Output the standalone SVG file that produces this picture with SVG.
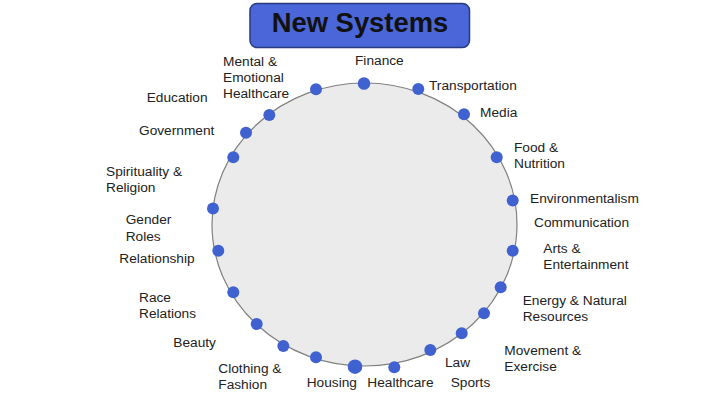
<svg xmlns="http://www.w3.org/2000/svg" width="720" height="405" viewBox="0 0 720 405">
<style>
.lbl{font-family:"Liberation Sans",Arial,sans-serif;font-size:13.7px;fill:#222}
.dot{fill:#4062d0}
</style>
<rect width="720" height="405" fill="#fff"/>
<g id="title">
<rect x="250" y="3.5" width="219.5" height="44" rx="7" fill="#4a66d8" stroke="#2a3a7c" stroke-width="1.5"/>
<text x="360" y="32" text-anchor="middle" font-family="Liberation Sans,Arial,sans-serif" font-weight="bold" font-size="27.4" fill="#111">New Systems</text>
</g>
<g id="ring">
<ellipse cx="364.5" cy="224.5" rx="152.5" ry="141.5" fill="#ebebeb" stroke="#808080" stroke-width="1.2"/>
</g>
<g id="connectors"></g>
<g id="finance"><circle class="dot" cx="364" cy="83.5" r="6.3"/><text class="lbl" x="355" y="65">Finance</text></g>
<g id="transportation"><circle class="dot" cx="418.3" cy="89" r="6"/><text class="lbl" x="429" y="89.5">Transportation</text></g>
<g id="media"><circle class="dot" cx="464" cy="114.3" r="6"/><text class="lbl" x="480" y="117">Media</text></g>
<g id="food"><circle class="dot" cx="496.7" cy="157.3" r="6"/><text class="lbl" x="514" y="152">Food &amp;</text><text class="lbl" x="514" y="168.3">Nutrition</text></g>
<g id="environmentalism"><circle class="dot" cx="512.7" cy="200.5" r="6"/><text class="lbl" x="530" y="202.7">Environmentalism</text></g>
<g id="communication"><text class="lbl" x="534" y="226.7">Communication</text></g>
<g id="arts"><circle class="dot" cx="512.7" cy="250.7" r="6"/><text class="lbl" x="543.3" y="253.3">Arts &amp;</text><text class="lbl" x="543.3" y="269.3">Entertainment</text></g>
<g id="energy"><circle class="dot" cx="500.7" cy="287.3" r="6"/><text class="lbl" x="522.7" y="305">Energy &amp; Natural</text><text class="lbl" x="522.7" y="321">Resources</text></g>
<g id="d9"><circle class="dot" cx="484" cy="313.3" r="6"/></g>
<g id="movement"><circle class="dot" cx="461.7" cy="333.3" r="6"/><text class="lbl" x="504.3" y="355">Movement &amp;</text><text class="lbl" x="504.3" y="371">Exercise</text></g>
<g id="law"><circle class="dot" cx="430.3" cy="350" r="6"/><text class="lbl" x="445" y="366.7">Law</text></g>
<g id="sports"><text class="lbl" x="450.7" y="387.3">Sports</text></g>
<g id="healthcare"><circle class="dot" cx="394.3" cy="367.3" r="6"/><text class="lbl" x="367.3" y="387.3">Healthcare</text></g>
<g id="housing"><circle class="dot" cx="355" cy="366.7" r="7.3"/><text class="lbl" x="306.7" y="387.3">Housing</text></g>
<g id="clothing"><circle class="dot" cx="316" cy="357.3" r="6"/><text class="lbl" x="218.3" y="372.7">Clothing &amp;</text><text class="lbl" x="218.3" y="389">Fashion</text></g>
<g id="beauty"><circle class="dot" cx="283.3" cy="346" r="6"/><text class="lbl" x="173.3" y="346.7">Beauty</text></g>
<g id="d17"><circle class="dot" cx="256.7" cy="324" r="6"/></g>
<g id="race"><circle class="dot" cx="233.3" cy="292.3" r="6"/><text class="lbl" x="139" y="302.3">Race</text><text class="lbl" x="139" y="318.3">Relations</text></g>
<g id="relationship"><circle class="dot" cx="218.3" cy="250.7" r="6"/><text class="lbl" x="119.3" y="262.7">Relationship</text></g>
<g id="gender"><circle class="dot" cx="213" cy="208.5" r="6"/><text class="lbl" x="125.7" y="224.3">Gender</text><text class="lbl" x="125.7" y="240.7">Roles</text></g>
<g id="spirituality"><circle class="dot" cx="233.3" cy="157.3" r="6"/><text class="lbl" x="106" y="175.7">Spirituality &amp;</text><text class="lbl" x="106" y="191.7">Religion</text></g>
<g id="government"><circle class="dot" cx="246" cy="132.7" r="6"/><text class="lbl" x="139" y="135">Government</text></g>
<g id="education"><circle class="dot" cx="269.3" cy="115" r="6"/><text class="lbl" x="146.7" y="102.3">Education</text></g>
<g id="mental"><circle class="dot" cx="316" cy="89.3" r="6"/><text class="lbl" x="223" y="65.5">Mental &amp;</text><text class="lbl" x="223" y="81.7">Emotional</text><text class="lbl" x="223" y="98">Healthcare</text></g>
</svg>
